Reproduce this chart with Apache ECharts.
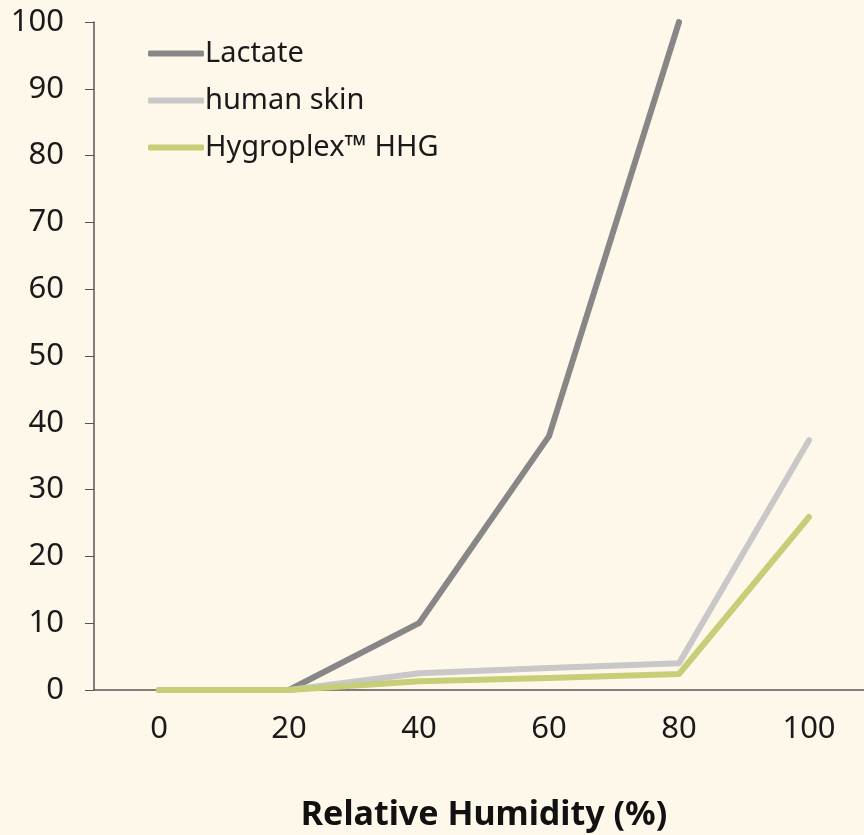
<!DOCTYPE html>
<html>
<head>
<meta charset="utf-8">
<script src="https://cdn.jsdelivr.net/npm/echarts@6/dist/echarts.min.js"></script>
<style>
html,body{margin:0;padding:0;background:#fef8eb;overflow:hidden;}
#c{width:864px;height:835px;}
</style>
</head>
<body>
<div id="c"></div>
<script>
const categories = ['0', '20', '40', '60', '80', '100'];
const lactate = [0, 0, 10, 38, 100, null];
const humanSkin = [0, 0, 2.5, 3.3, 4.0, 37.4];
const hygroplex = [0, 0, 1.3, 1.8, 2.4, 25.9];
const yTicks = [0, 10, 20, 30, 40, 50, 60, 70, 80, 90, 100];

const FONT = 'Noto Sans';
const chart = echarts.init(document.getElementById('c'));
function line(name, data, color) {
  return {
    name: name, type: 'line', data: data, symbol: 'none',
    lineStyle: { width: 6, color: color, cap: 'round', join: 'round' },
    itemStyle: { color: color },
    emphasis: { disabled: true }, clip: true
  };
}
chart.setOption({
  backgroundColor: '#fef8eb',
  animation: false,
  grid: { left: 94, top: 22, width: 780, height: 668, containLabel: false, outerBoundsMode: 'none' },
  legend: {
    orient: 'vertical', left: 143, top: 34, itemWidth: 56, itemHeight: 6, itemGap: 18,
    icon: 'roundRect',
    textStyle: { fontFamily: FONT, fontSize: 29, color: '#1a1a1a', padding: [0, 0, 0, -4] },
    data: ['Lactate', 'human skin', 'Hygroplex™ HHG']
  },
  xAxis: {
    type: 'category', data: categories, boundaryGap: true,
    axisLine: { lineStyle: { color: '#555', width: 1.5 } },
    axisTick: { length: 10, lineStyle: { color: '#555' } },
    axisLabel: { fontFamily: FONT, fontSize: 31, color: '#1a1a1a', margin: 24 },
    name: 'Relative Humidity (%)', nameLocation: 'middle', nameGap: 108,
    nameTextStyle: { fontFamily: FONT, fontSize: 34, fontWeight: 'bold', color: '#111' }
  },
  yAxis: {
    type: 'value', min: yTicks[0], max: yTicks[yTicks.length - 1], interval: 10,
    splitLine: { show: false },
    axisLine: { show: true, lineStyle: { color: '#555', width: 1.5 } },
    axisTick: { show: true, length: 9, lineStyle: { color: '#555' } },
    axisLabel: { fontFamily: FONT, fontSize: 31, color: '#1a1a1a', margin: 30 }
  },
  series: [
    line('Lactate', lactate, '#878787'),
    line('human skin', humanSkin, '#c8c8c8'),
    line('Hygroplex™ HHG', hygroplex, '#c6ce78')
  ]
});
</script>
</body>
</html>
